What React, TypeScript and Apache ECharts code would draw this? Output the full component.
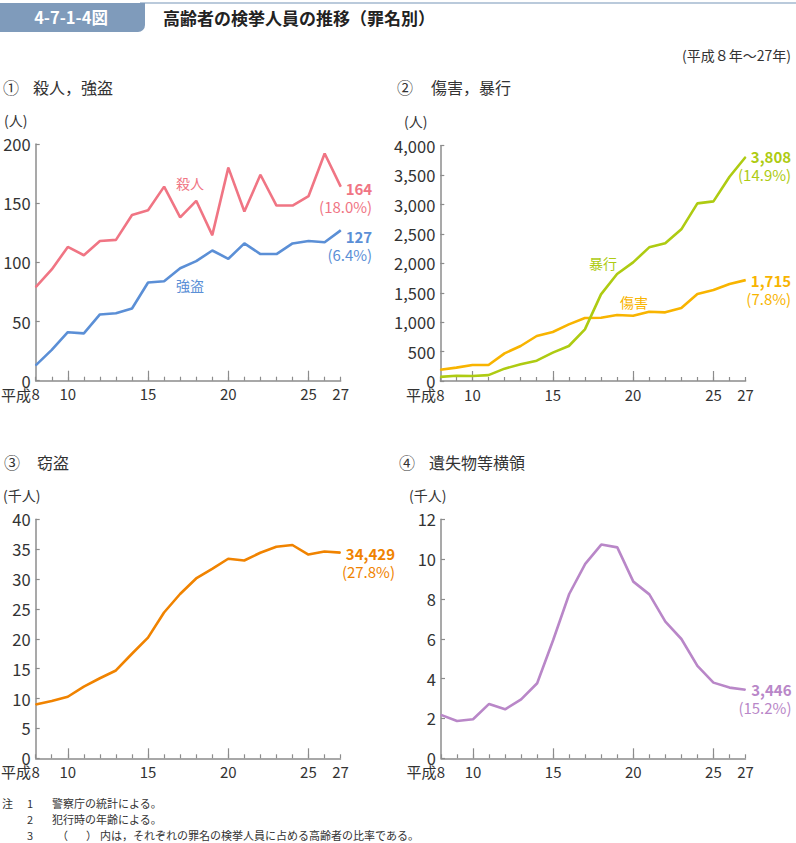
import { useEffect, useRef } from 'react';
import * as echarts from 'echarts';

const FONT = '"Noto Sans CJK JP", "Noto Sans", sans-serif';

// 平成 years
const years = ['8', '9', '10', '11', '12', '13', '14', '15', '16', '17', '18', '19', '20', '21', '22', '23', '24', '25', '26', '27'];
const labeledYears = ['8', '10', '15', '20', '25', '27'];
const majorTickYears = ['10', '15', '20', '25'];
const eraPrefix = '平成';

// ① 殺人，強盗 (人)
const murder = [79, 94, 113, 106, 118, 119, 140, 144, 164, 138, 152, 123, 180, 143, 174, 148, 148, 156, 192, 164];
const robbery = [13, 26, 41, 40, 56, 57, 61, 83, 84, 95, 101, 110, 103, 116, 107, 107, 116, 118, 117, 127];
const murderShare = 18.0;
const robberyShare = 6.4;

// ② 傷害，暴行 (人)
const injury = [190, 227, 272, 272, 470, 595, 765, 833, 963, 1071, 1076, 1122, 1110, 1178, 1167, 1241, 1479, 1547, 1649, 1715];
const violence = [70, 90, 85, 100, 210, 283, 345, 482, 595, 878, 1473, 1819, 2017, 2272, 2340, 2578, 3020, 3054, 3473, 3808];
const injuryShare = 7.8;
const violenceShare = 14.9;

// ③ 窃盗 (千人)
const theft = [9.0, 9.6, 10.3, 12.0, 13.4, 14.7, 17.5, 20.2, 24.4, 27.5, 30.1, 31.7, 33.4, 33.1, 34.4, 35.4, 35.7, 34.1, 34.6, 34.429];
const theftShare = 27.8;

// ④ 遺失物等横領 (千人)
const embezzlement = [2.18, 1.87, 1.96, 2.73, 2.46, 2.96, 3.77, 5.94, 8.25, 9.76, 10.73, 10.59, 8.87, 8.23, 6.86, 5.99, 4.64, 3.8, 3.55, 3.446];
const embezzlementShare = 15.2;

const AXIS = '#8c8c8c';
const TEXT = '#333333';
const C_MURDER = '#f07584';
const C_ROBBERY = '#5b8fd6';
const C_VIOLENCE = '#aecb12';
const C_INJURY = '#f8b400';
const C_THEFT = '#f08300';
const C_EMBEZZLE = '#b987c8';

function xAxes(gridIndex: number) {
  const base = { gridIndex, type: 'category', data: years, boundaryGap: false, position: 'bottom', splitLine: { show: false } };
  return [
    {
      ...base,
      axisLine: { show: true, lineStyle: { color: AXIS, width: 1.5 } },
      axisTick: { show: true, inside: true, length: 4, interval: 0, lineStyle: { color: AXIS, width: 1.2 } },
      axisLabel: {
        interval: (_i: number, v: string) => labeledYears.includes(v),
        showMinLabel: true,
        showMaxLabel: true,
        margin: 5,
        color: TEXT,
        fontSize: 15,
        lineHeight: 16,
        verticalAlign: 'top',
        fontFamily: FONT,
      },
    },
    {
      ...base,
      axisLine: { show: false },
      axisTick: { show: true, inside: true, length: 10, interval: (_i: number, v: string) => majorTickYears.includes(v), lineStyle: { color: AXIS, width: 1.2 } },
      axisLabel: { show: false },
    },
  ];
}

function yAxis(gridIndex: number, max: number, interval: number, fmt?: (v: number) => string) {
  return {
    gridIndex,
    type: 'value',
    min: 0,
    max,
    interval,
    axisLine: { show: true, lineStyle: { color: AXIS, width: 1.5 } },
    axisTick: { show: true, inside: true, length: 4, lineStyle: { color: AXIS, width: 1.2 } },
    axisLabel: { margin: 5, showMinLabel: true, showMaxLabel: true, color: TEXT, fontSize: 16.5, lineHeight: 13, fontFamily: FONT, formatter: fmt, verticalAlign: 'middle' },
    splitLine: { show: false },
  };
}

function lineSeries(gridIndex: number, data: number[], color: string, share: number, dx: number, dy: number, unit: number) {
  const last = data.length - 1;
  return {
    type: 'line',
    xAxisIndex: gridIndex * 2,
    yAxisIndex: gridIndex,
    symbol: 'circle',
    symbolSize: 1,
    showSymbol: true,
    silent: true,
    lineStyle: { color, width: 2.6 },
    itemStyle: { color },
    data: data.map((v, i) =>
      i === last
        ? {
            value: v,
            label: {
              show: true,
              position: 'right',
              distance: 0,
              align: 'right',
              verticalAlign: 'top',
              offset: [dx, dy],
              formatter: () => `{v|${Math.round(v * unit).toLocaleString('en-US')}}\n{p|(${share.toFixed(1)}%)}`,
              rich: {
                v: { fontSize: 15, fontWeight: 'bold', color, lineHeight: 18, fontFamily: FONT },
                p: { fontSize: 15, color, lineHeight: 18, fontFamily: FONT },
              },
            },
          }
        : v
    ),
  };
}

function txt(text: string, x: number, y: number, size: number, opts: any = {}) {
  return {
    type: 'text',
    x,
    y,
    silent: true,
    style: {
      text,
      fill: opts.fill || TEXT,
      fontSize: size,
      fontFamily: FONT,
      fontWeight: opts.bold ? 'bold' : 'normal',
      align: opts.align || 'left',
      verticalAlign: 'middle',
    },
  };
}

export default function App() {
  const ref = useRef<HTMLDivElement>(null);
  useEffect(() => {
    if (!ref.current) return;
    const chart = echarts.init(ref.current, undefined, { renderer: 'svg' });
    const comma = (v: number) => v.toLocaleString('en-US');
    chart.setOption({
      animation: false,
      backgroundColor: '#ffffff',
      grid: [
        { left: 35.7, top: 144, width: 305, height: 236.7 },
        { left: 440.3, top: 145.7, width: 305.3, height: 235.3 },
        { left: 35.7, top: 519.3, width: 304.8, height: 239 },
        { left: 441, top: 519.3, width: 304.5, height: 239 },
      ],
      xAxis: [...xAxes(0), ...xAxes(1), ...xAxes(2), ...xAxes(3)],
      yAxis: [yAxis(0, 200, 50), yAxis(1, 4000, 500, comma), yAxis(2, 40, 5), yAxis(3, 12, 2)],
      series: [
        lineSeries(0, murder, C_MURDER, murderShare, 31, -7.6, 1),
        lineSeries(0, robbery, C_ROBBERY, robberyShare, 31, -2.4, 1),
        lineSeries(1, injury, C_INJURY, injuryShare, 45, -9.1, 1),
        lineSeries(1, violence, C_VIOLENCE, violenceShare, 45, -9.3, 1),
        lineSeries(2, theft, C_THEFT, theftShare, 54, -7.6, 1000),
        lineSeries(3, embezzlement, C_EMBEZZLE, embezzlementShare, 45.5, -9.4, 1000),
      ],
      graphic: [
        { type: 'line', silent: true, shape: { x1: 140, y1: 3, x2: 796, y2: 3 }, style: { stroke: '#a3b8cf', lineWidth: 1.5 } },
        { type: 'rect', silent: true, shape: { x: 0, y: 3, width: 145, height: 29, r: [0, 0, 7, 0] }, style: { fill: '#7f9bbb' } },
        txt('4-7-1-4図', 71, 17, 16.5, { fill: '#ffffff', bold: true, align: 'center' }),
        txt('高齢者の検挙人員の推移（罪名別）', 163, 17, 17, { bold: true, fill: '#222222' }),
        txt('(平成８年～27年)', 791, 55, 14, { align: 'right' }),
        txt('①', 3, 87, 16),
        txt('殺人，強盗', 33, 87, 16),
        txt('②', 397, 87, 16),
        txt('傷害，暴行', 431, 87, 16),
        txt('③', 4, 462, 16),
        txt('窃盗', 37, 462, 16),
        txt('④', 399, 462, 16),
        txt('遺失物等横領', 429, 462, 16),
        txt('(人)', 4, 120, 14),
        txt('(人)', 404, 121, 14),
        txt('(千人)', 3, 495, 14),
        txt('(千人)', 409, 495, 14),
        txt(eraPrefix, 31, 394, 15, { align: 'right' }),
        txt(eraPrefix, 436, 394.5, 15, { align: 'right' }),
        txt(eraPrefix, 31, 771.5, 15, { align: 'right' }),
        txt(eraPrefix, 436.5, 771.5, 15, { align: 'right' }),
        txt('殺人', 176, 183, 14, { fill: C_MURDER }),
        txt('強盗', 176, 285, 14, { fill: C_ROBBERY }),
        txt('暴行', 589, 263, 14, { fill: C_VIOLENCE }),
        txt('傷害', 620, 302, 14, { fill: C_INJURY }),
        txt('注', 2, 803, 11),
        txt('1', 27, 803, 11),
        txt('警察庁の統計による。', 52, 803, 11),
        txt('2', 27, 819, 11),
        txt('犯行時の年齢による。', 52, 819, 11),
        txt('3', 27, 835, 11),
        txt('（', 57, 835, 11),
        txt('）', 86, 835, 11),
        txt('内は，それぞれの罪名の検挙人員に占める高齢者の比率である。', 100, 835, 11),
      ],
    });
    return () => chart.dispose();
  }, []);
  return <div ref={ref} style={{ position: 'absolute', left: 0, top: 0, width: 796, height: 843 }} />;
}
